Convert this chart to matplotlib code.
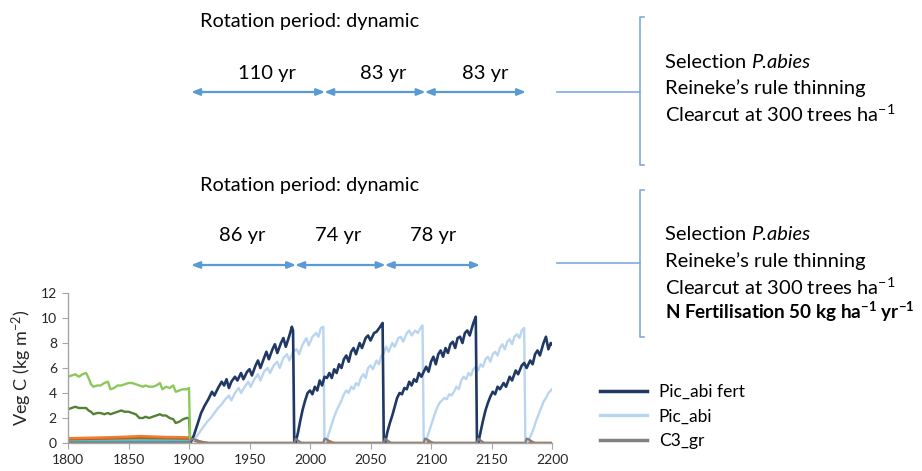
import numpy as np
import matplotlib.pyplot as plt

plt.rcParams['font.family'] = ['Lato', 'DejaVu Sans']
plt.rcParams['mathtext.fontset'] = 'custom'
plt.rcParams['mathtext.rm'] = 'Lato'
plt.rcParams['mathtext.it'] = 'Lato:italic'
plt.rcParams['mathtext.bf'] = 'Lato:bold'

# ---- data ----
# Pic_abi fert (rotations 86, 74, 78 yr)
fert_years = [1901, 1904, 1907, 1910, 1913, 1916, 1919, 1921, 1924, 1927, 1929, 1931, 1933, 1935,
              1938, 1940, 1943, 1945, 1948, 1950, 1952, 1955, 1957, 1959, 1962, 1964, 1966, 1969,
              1971, 1973, 1976, 1978, 1980, 1983, 1985, 1986, 1987,
              1988, 1990, 1992, 1994, 1996, 1998, 2000, 2002, 2004, 2006, 2008, 2010, 2012, 2014,
              2016, 2018, 2020, 2022, 2024, 2026, 2028, 2030, 2032, 2034, 2036, 2038, 2041, 2043,
              2046, 2048, 2050, 2053, 2055, 2058, 2060, 2061,
              2062, 2064, 2066, 2068, 2070, 2072, 2074, 2076, 2078, 2080, 2082, 2084, 2086, 2088,
              2090, 2092, 2094, 2096, 2098, 2100, 2102, 2104, 2106, 2108, 2110, 2112, 2114, 2116,
              2118, 2120, 2122, 2124, 2126, 2128, 2130, 2132, 2135, 2137, 2138,
              2139, 2141, 2143, 2145, 2147, 2149, 2151, 2153, 2155, 2157, 2160, 2162, 2165, 2167,
              2170, 2172, 2175, 2177, 2179, 2182, 2184, 2186, 2188, 2190, 2193, 2195, 2197, 2199, 2200]
fert_veg = [0.0, 0.6, 1.5, 2.4, 3.0, 3.5, 4.1, 3.8, 4.4, 4.9, 4.6, 5.1, 4.4, 4.9,
            5.3, 5.0, 5.6, 5.1, 5.7, 5.9, 5.4, 6.2, 6.6, 6.0, 6.8, 7.3, 6.7, 7.5,
            7.9, 7.2, 8.0, 8.4, 7.7, 8.6, 9.3, 9.0, 0.0,
            0.0, 0.8, 1.8, 2.7, 3.4, 4.0, 4.2, 3.9, 4.5, 4.2, 5.0, 4.6, 5.3, 5.2,
            5.6, 5.2, 5.9, 5.6, 6.3, 6.0, 6.7, 7.0, 6.5, 7.3, 7.6, 7.1, 8.0, 7.6,
            8.4, 8.6, 8.2, 8.8, 8.9, 9.3, 9.6, 0.0,
            0.0, 0.9, 1.6, 2.2, 2.9, 3.6, 4.0, 3.9, 4.4, 4.3, 4.9, 4.6, 5.1, 4.9,
            5.6, 5.3, 5.7, 6.1, 5.7, 6.5, 6.9, 6.3, 7.1, 7.4, 6.9, 7.6, 7.2, 7.9,
            8.1, 7.6, 8.4, 8.5, 8.0, 8.8, 9.0, 8.6, 9.6, 10.1, 0.0,
            0.0, 0.9, 1.8, 2.6, 3.2, 3.7, 4.1, 3.9, 4.5, 4.3, 4.8, 4.5, 5.3, 5.0,
            5.8, 5.5, 6.2, 6.4, 6.0, 6.6, 6.3, 7.1, 7.4, 7.0, 8.0, 8.5, 7.5, 8.0, 7.9]

# Pic_abi (rotations 110, 83, 83 yr)
abi_years = [1901, 1903, 1906, 1909, 1912, 1915, 1918, 1921, 1924, 1927, 1930, 1933, 1935, 1938,
             1941, 1943, 1946, 1949, 1951, 1954, 1957, 1959, 1962, 1965, 1967, 1970, 1973, 1975,
             1978, 1981, 1983, 1986, 1989, 1991, 1994, 1997, 1999, 2002, 2005, 2007, 2009, 2011, 2012,
             2014, 2016, 2018, 2020, 2022, 2024, 2026, 2028, 2030, 2032, 2034, 2036, 2038, 2040,
             2042, 2044, 2046, 2048, 2050, 2052, 2055, 2057, 2059, 2061, 2063, 2065, 2068, 2070,
             2073, 2075, 2077, 2080, 2082, 2084, 2087, 2089, 2092, 2093, 2094,
             2095, 2097, 2099, 2101, 2103, 2105, 2107, 2109, 2111, 2113, 2115, 2117, 2119, 2121,
             2123, 2125, 2127, 2129, 2131, 2133, 2135, 2137, 2139, 2141, 2143, 2145, 2147, 2149,
             2151, 2153, 2155, 2157, 2159, 2161, 2163, 2165, 2167, 2169, 2171, 2173, 2175, 2177, 2178,
             2179, 2181, 2183, 2185, 2187, 2189, 2191, 2193, 2195, 2197, 2199, 2200]
abi_veg = [0.0, 0.1, 0.5, 0.9, 1.3, 1.7, 2.0, 2.4, 2.8, 3.1, 3.5, 3.8, 3.4, 4.0,
           4.4, 4.0, 4.5, 4.9, 4.5, 5.1, 5.5, 5.0, 5.7, 6.0, 5.6, 6.2, 6.5, 6.0,
           6.8, 7.1, 6.6, 7.3, 7.5, 7.1, 7.9, 8.4, 7.8, 8.5, 8.8, 8.5, 9.2, 9.3, 0.0,
           0.3, 0.9, 1.5, 2.1, 2.6, 3.0, 3.4, 3.9, 4.2, 4.0, 4.5, 4.3, 4.8, 4.6,
           5.2, 5.5, 5.2, 6.0, 6.2, 5.9, 6.6, 6.3, 7.0, 7.2, 7.7, 7.3, 8.0, 7.7,
           8.4, 8.5, 8.1, 8.8, 9.0, 8.6, 9.0, 8.8, 9.3, 9.4, 0.0,
           0.0, 0.5, 1.1, 1.7, 2.3, 2.8, 3.2, 3.4, 3.6, 3.5, 3.9, 3.8, 4.1, 4.5,
           4.3, 5.0, 5.3, 5.1, 5.6, 5.4, 5.9, 6.1, 5.8, 6.3, 6.1, 6.7, 6.9, 6.5,
           7.1, 7.3, 7.0, 7.6, 7.9, 7.5, 8.1, 8.3, 7.9, 8.5, 8.7, 8.4, 9.0, 9.2, 0.0,
           0.0, 0.3, 0.7, 1.2, 1.8, 2.3, 2.8, 3.3, 3.6, 4.0, 4.2, 4.3]

# C3_gr
c3_years = [1800, 1850, 1900, 1901, 1902, 1905, 1908, 1912, 1916,
            1987, 1988, 1990, 1993, 2011, 2012, 2014, 2018, 2061, 2062, 2064, 2067,
            2094, 2095, 2097, 2101, 2138, 2139, 2141, 2144, 2178, 2179, 2181, 2185, 2200]
c3_veg = [0.05, 0.05, 0.05, 0.1, 0.35, 0.28, 0.15, 0.05, 0.0,
          0.0, 0.35, 0.2, 0.0, 0.0, 0.35, 0.28, 0.0, 0.0, 0.35, 0.2, 0.0,
          0.0, 0.35, 0.28, 0.0, 0.0, 0.35, 0.2, 0.0, 0.0, 0.35, 0.28, 0.0, 0.0]

# initial (pre-1900) vegetation
pre_years = [1800, 1803, 1806, 1809, 1812, 1815, 1817, 1819, 1821, 1824, 1827, 1830, 1833, 1835,
             1838, 1841, 1844, 1847, 1850, 1853, 1856, 1859, 1862, 1864, 1867, 1870, 1873, 1876,
             1878, 1881, 1884, 1887, 1889, 1892, 1895, 1898, 1900, 1901]
green_light = [5.3, 5.4, 5.5, 5.3, 5.5, 5.6, 5.2, 4.7, 4.5, 4.6, 4.6, 4.8, 4.9, 4.3,
               4.4, 4.6, 4.6, 4.7, 4.8, 4.8, 4.7, 4.6, 4.5, 4.6, 4.5, 4.5, 4.6, 4.8,
               4.3, 4.5, 4.4, 4.6, 4.1, 4.2, 4.3, 4.3, 4.4, 0.0]
green_dark = [2.7, 2.8, 2.9, 2.8, 2.8, 2.8, 2.6, 2.5, 2.3, 2.4, 2.4, 2.3, 2.4, 2.3,
              2.4, 2.5, 2.6, 2.5, 2.5, 2.4, 2.3, 2.0, 2.0, 2.1, 2.0, 2.1, 2.2, 2.3,
              2.2, 2.2, 2.0, 1.9, 1.6, 1.7, 1.9, 2.0, 2.0, 0.0]

orange_years = [1800, 1820, 1840, 1860, 1880, 1900, 1905, 1910, 1916,
                2011, 2013, 2016, 2020, 2093, 2095, 2098, 2102, 2177, 2179, 2182, 2186, 2200]
orange_veg = [0.38, 0.42, 0.47, 0.55, 0.48, 0.45, 0.25, 0.1, 0.0,
              0.0, 0.12, 0.15, 0.0, 0.0, 0.12, 0.15, 0.0, 0.0, 0.12, 0.15, 0.0, 0.0]
orange2_veg = [0.3, 0.33, 0.36, 0.4, 0.38, 0.35, 0.15, 0.05, 0.0,
               0.0, 0.05, 0.08, 0.0, 0.0, 0.05, 0.08, 0.0, 0.0, 0.05, 0.08, 0.0, 0.0]
small_years = [1800, 1850, 1900, 1901]
cyan_veg = [0.2, 0.22, 0.25, 0.0]
blue_veg = [0.12, 0.12, 0.12, 0.0]

# annotation content
rot_unfert = [110, 83, 83]
rot_fert = [86, 74, 78]
start_year = 1901

W, H = 922, 471
fig = plt.figure(figsize=(W / 100, H / 100), dpi=100)


def fx(px):
    return px / W


def fy(py):
    return 1 - py / H


ax = fig.add_axes([fx(68), fy(443), (552 - 68) / W, 150 / H])

ax.plot(small_years, blue_veg, color='#5B9BD5', lw=1.6)
ax.plot(small_years, cyan_veg, color='#3CC8D8', lw=1.6)
ax.plot(orange_years, orange2_veg, color='#C55A11', lw=1.6)
ax.plot(orange_years, orange_veg, color='#ED7D31', lw=1.8)
ax.plot(pre_years, green_dark, color='#548235', lw=1.7)
ax.plot(pre_years, green_light, color='#8CC85A', lw=1.7)
l_abi, = ax.plot(abi_years, abi_veg, color='#B9D5F0', lw=1.7, label='Pic_abi')
l_fert, = ax.plot(fert_years, fert_veg, color='#1F3864', lw=1.9, label='Pic_abi fert')
l_c3, = ax.plot(c3_years, c3_veg, color='#808080', lw=1.6, label='C3_gr')

ax.set_xlim(1800, 2200)
ax.set_ylim(0, 12)
ax.set_xticks(np.arange(1800, 2201, 50))
ax.set_yticks(np.arange(0, 13, 2))
for s in ['top', 'right']:
    ax.spines[s].set_visible(False)
for s in ['left', 'bottom']:
    ax.spines[s].set_color('#A6A6A6')
    ax.spines[s].set_linewidth(1.0)
ax.tick_params(axis='both', length=4, color='#A6A6A6', labelsize=10, labelcolor='#262626', pad=4)
ax.set_ylabel('Veg C (kg m$^{-2}$)', fontsize=13, color='#262626', labelpad=5)

fig.legend(handles=[l_fert, l_abi, l_c3], loc='upper left', bbox_to_anchor=(fx(584), fy(368)),
           frameon=False, fontsize=12.5, handlelength=2.7, handletextpad=0.7, labelspacing=0.5)
for h in fig.legends[0].legend_handles:
    h.set_linewidth(2.5)

arrow_col = '#5B9BD5'
line_col = '#7FAADC'


def rotation_block(periods, ytitle, ylabel, yarrow, label_x):
    fig.text(fx(200), fy(ytitle), 'Rotation period: dynamic', fontsize=14.3, va='center', ha='left')
    bounds = np.cumsum([start_year] + periods)
    for i, p in enumerate(periods):
        ax.annotate('', xy=(bounds[i + 1] + 1.5, fy(yarrow)), xytext=(bounds[i] + 0.8, fy(yarrow)),
                    xycoords=('data', 'figure fraction'), textcoords=('data', 'figure fraction'),
                    annotation_clip=False,
                    arrowprops=dict(arrowstyle='<|-|>,head_length=0.5,head_width=0.2',
                                    color=arrow_col, lw=1.6, shrinkA=0, shrinkB=0))
        fig.text(fx(label_x[i]), fy(ylabel), f'{p} yr', fontsize=14.5, ha='center', va='center')


rotation_block(rot_unfert, 22, 73, 92, [267, 383, 485])
rotation_block(rot_fert, 185, 236, 265, [242, 338, 433])

# connectors and brackets
for yline, ytop, ybot in [(92, 17, 165), (263, 190, 337)]:
    fig.add_artist(plt.Line2D([fx(557), fx(640)], [fy(yline), fy(yline)], color=line_col, lw=1.2))
    fig.add_artist(plt.Line2D([fx(644), fx(640), fx(640), fx(644)],
                              [fy(ytop), fy(ytop), fy(ybot), fy(ybot)], color=line_col, lw=1.2))

# management descriptions on the right
renderer = fig.canvas.get_renderer()
right_txt = ['Reineke\u2019s rule thinning', r'Clearcut at 300 trees ha$^{-1}$']
for y0 in [62, 235]:
    sel = fig.text(fx(665), fy(y0), 'Selection ', fontsize=14.5, va='center', ha='left')
    bb = sel.get_window_extent(renderer=renderer)
    fig.text(bb.x1 / W, fy(y0), 'P.abies', fontsize=14.5, style='italic', va='center', ha='left')
    for i, t in enumerate(right_txt):
        fig.text(fx(665), fy(y0 + 26 * (i + 1)), t, fontsize=14.5, va='center', ha='left')
fig.text(fx(665), fy(312), r'N Fertilisation 50 kg ha$^{\mathbf{-1}}$ yr$^{\mathbf{-1}}$',
         fontsize=13.6, fontweight='bold', va='center', ha='left')

fig.savefig('out.png', dpi=100)
